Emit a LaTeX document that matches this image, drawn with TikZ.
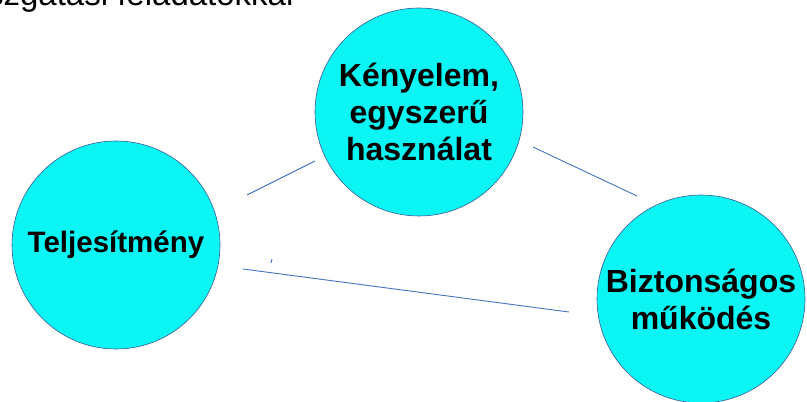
\documentclass[tikz,border=0pt]{standalone}
\usepackage{fontspec}
\setmainfont{Liberation Sans}
\definecolor{ccyan}{RGB}{12,245,245}
\definecolor{cedge}{RGB}{60,90,150}
\definecolor{cline}{RGB}{68,114,196}
\begin{document}
\begin{tikzpicture}[x=1pt,y=1pt,
  bubble/.style={circle,fill=ccyan,draw=cedge,line width=0.6pt,minimum size=208pt,inner sep=0pt,align=center,
    font=\fontsize{32}{37}\selectfont\bfseries},
  link/.style={draw=cline,line width=0.9pt}]
\useasboundingbox (0,0) rectangle (807,402);
\node[anchor=base east,font=\fontsize{33}{36}\selectfont] (top) at (297,396) {szgatási feladatokkal};
\node[bubble,font=\fontsize{29.5}{36}\selectfont\bfseries] (tel) at (116,157) {Teljesítmény};
\node[bubble] (ken) at (419,290) {Kényelem,\\egyszerű\hspace*{0.3em}\\használat};
\node[bubble] (bizt) at (701,103) {Biztonságos\\működés};
\coordinate (a1) at (247,207);
\coordinate (a2) at (315,241);
\coordinate (b1) at (533,255);
\coordinate (b2) at (637,206);
\coordinate (c1) at (243,133);
\coordinate (c2) at (569,90);
\coordinate (d1) at (271,139);
\coordinate (d2) at (272,143);
\draw[link] (a1) -- (a2);
\draw[link] (b1) -- (b2);
\draw[link] (c1) -- (c2);
\draw[link] (d1) -- (d2);
\end{tikzpicture}
\end{document}
